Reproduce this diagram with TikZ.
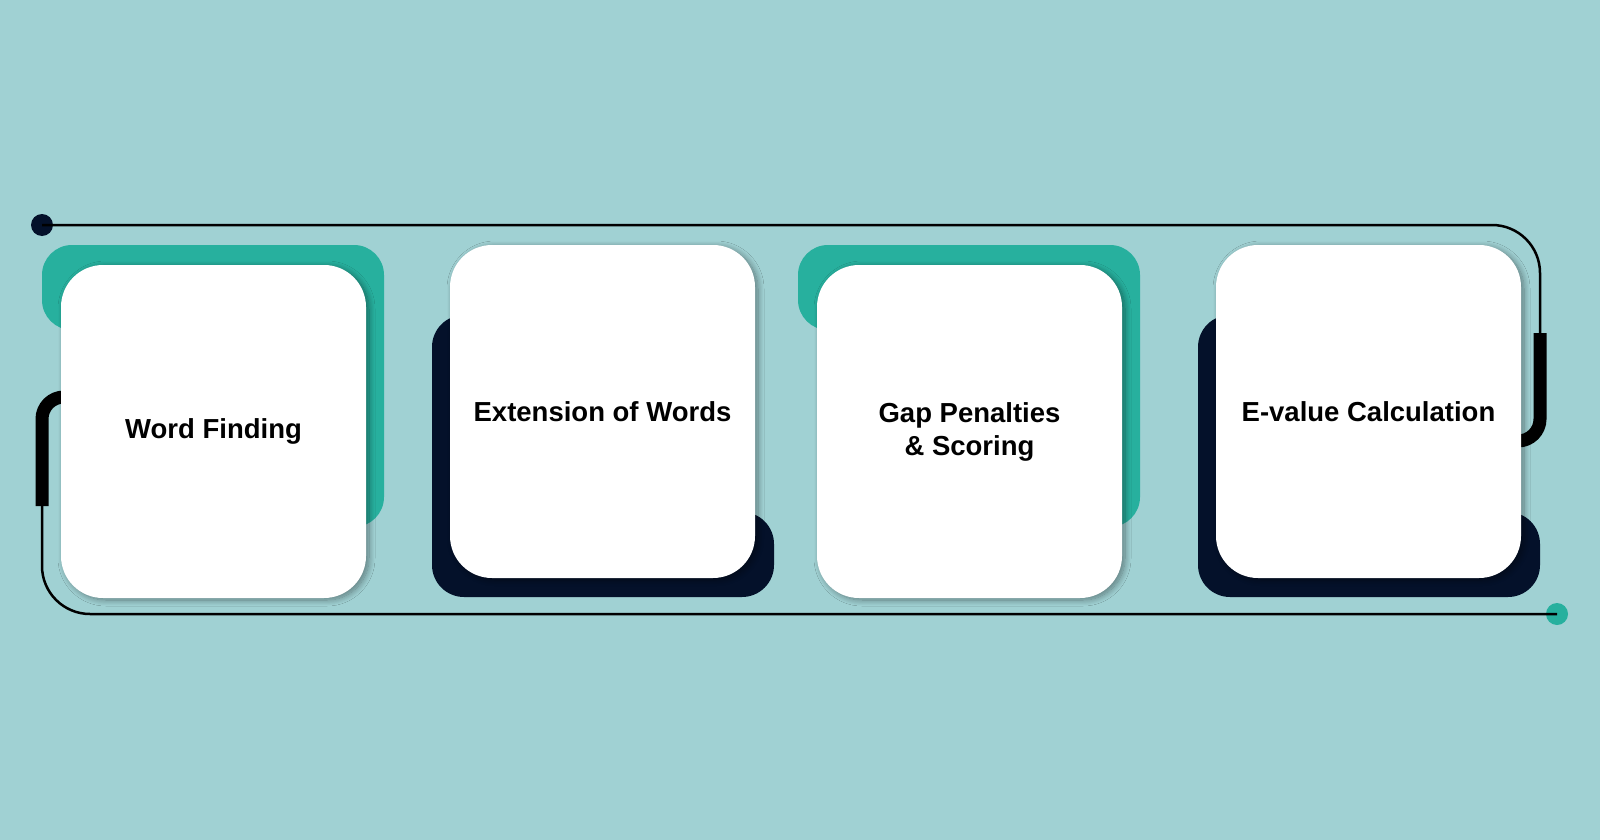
\documentclass[tikz,border=0pt]{standalone}
\usepackage{fontspec}
\setmainfont{Liberation Sans}
\usetikzlibrary{calc}
\usetikzlibrary{shadows.blur}
\usepackage{xcolor}
\definecolor{bgcyan}{HTML}{A0D1D3}
\definecolor{padteal}{HTML}{27B09E}
\definecolor{padnavy}{HTML}{04112A}

\begin{document}
\begin{tikzpicture}[x=0.5pt,y=-0.5pt,
  card/.style={fill=white,rounded corners=21pt,minimum width=152.5pt,minimum height=166.5pt,
    align=center,inner sep=0pt,font=\bfseries\fontsize{13.75}{16.5}\selectfont,
    blur shadow={shadow xshift=1.5pt,shadow yshift=-1pt,shadow blur radius=3pt,
      shadow blur steps=12,shadow opacity=40}},
  wire/.style={draw=black,line width=1.25pt},
  heavywire/.style={draw=black,line width=6.5pt},
  enddot/.style={circle,inner sep=0pt,minimum size=11pt}]

\newcommand{\tealpad}[2]{
  \fill[padteal,rounded corners=15pt] (#1+100,#2+65) -- (#1-19,#2+65) -- (#1-19,#2-20)
    -- (#1+323,#2-20) -- (#1+323,#2+262) -- (#1+100,#2+262) -- cycle;
}
\newcommand{\navypad}[2]{
  \fill[padnavy,rounded corners=16pt] (#1+200,#2+267) -- (#1+324,#2+267) -- (#1+324,#2+352)
    -- (#1-18,#2+352) -- (#1-18,#2+70) -- (#1+200,#2+70) -- cycle;
}

\fill[bgcyan] (0,0) rectangle (1600,840);
\useasboundingbox (0,0) rectangle (1600,840);

% wires
\node[enddot,fill=padnavy] (startdot) at (42,225) {};
\node[enddot,fill=padteal] (stopdot) at (1557,614) {};

\draw[wire,rounded corners=24pt] (startdot.center) -- (1540,225) -- (1540,336);
\draw[heavywire,rounded corners=11pt] (1540,333) -- (1540,441) -- (1490,441);

\draw[heavywire,rounded corners=11pt] (110,397) -- (42,397) -- (42,506);
\draw[wire,rounded corners=24pt] (42,503) -- (42,614) -- (stopdot.center);

% pads behind the cards
\tealpad{61}{265}
\navypad{450}{245}
\tealpad{817}{265}
\navypad{1216}{245}

% cards
\node[card] (find) at (213.5,431.5) {Word Finding};
\node[card] (extend) at (602.5,411.5) {Extension of Words};
\node[card] (gap) at (969.5,431.5) {Gap Penalties\\\& Scoring};
\node[card] (evalue) at (1368.5,411.5) {E-value Calculation};

\end{tikzpicture}
\end{document}
